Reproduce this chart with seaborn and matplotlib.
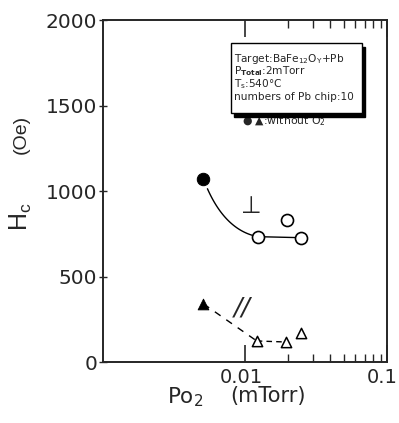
import numpy as np
import pandas as pd
import matplotlib
matplotlib.use("Agg")
import matplotlib.pyplot as plt
import matplotlib.transforms as mtransforms
from matplotlib.patches import Rectangle
from matplotlib.ticker import FixedLocator, NullFormatter
import seaborn as sns

# ---- data ----
po2_perp_filled = [0.0051]
hc_perp_filled = [1070]
po2_perp_open = [0.0123, 0.0197, 0.0247]
hc_perp_open = [733, 833, 727]

po2_par_filled = [0.0051]
hc_par_filled = [340]
po2_par_open = [0.0121, 0.0194, 0.0246]
hc_par_open = [123, 117, 170]

x_ticks = [0.01, 0.1]
x_ticklabels = ["0.01", "0.1"]
y_ticks = [0, 500, 1000, 1500, 2000]

sns.set_style("ticks")
plt.rcParams["font.family"] = ["DejaVu Sans"]
plt.rcParams["mathtext.default"] = "regular"

fig = plt.figure(figsize=(3.99, 4.23), dpi=100)
ax = fig.add_axes([103/399, 1-362/423, 284/399, 342/423])
ax.set_xscale("log")
ax.set_xlim(0.001, 0.1)
ax.set_ylim(0, 2000)

# guide curve (perpendicular): quadratic bezier in log-x space between filled and first open point
x0, y0 = np.log10(po2_perp_filled[0]), hc_perp_filled[0]
x1, y1 = np.log10(po2_perp_open[0]), hc_perp_open[0]
cx, cy = x0 + 0.35*(x1-x0), y1 + 40
t = np.linspace(0.10, 1, 40)
bx = (1-t)**2*x0 + 2*(1-t)*t*cx + t**2*x1
by = (1-t)**2*y0 + 2*(1-t)*t*cy + t**2*y1
ax.plot(10**bx, by, color="black", lw=1.0, zorder=2)
ax.plot([po2_perp_open[0], po2_perp_open[2]], [hc_perp_open[0], hc_perp_open[2]],
        color="black", lw=1.0, zorder=2)

# dashed guide (parallel)
ax.plot([po2_par_filled[0], po2_par_open[0]], [hc_par_filled[0], hc_par_open[0]],
        color="black", lw=1.0, ls=(0, (5, 5)), zorder=2)
ax.plot([po2_par_open[0], po2_par_open[1]], [hc_par_open[0], hc_par_open[1]],
        color="black", lw=1.0, ls=(0, (4, 3)), zorder=2)

sns.scatterplot(x=po2_perp_filled, y=hc_perp_filled, marker="o", s=80,
                color="black", edgecolor="black", ax=ax, zorder=5)
sns.scatterplot(x=po2_perp_open, y=hc_perp_open, marker="o", s=75,
                facecolor="white", edgecolor="black", linewidth=1.2, ax=ax, zorder=5)
sns.scatterplot(x=po2_par_filled, y=hc_par_filled, marker="^", s=60,
                color="black", edgecolor="black", ax=ax, zorder=5)
sns.scatterplot(x=po2_par_open, y=hc_par_open, marker="^", s=55,
                facecolor="white", edgecolor="black", linewidth=1.1, ax=ax, zorder=5)

# ticks
ax.xaxis.set_major_locator(FixedLocator(x_ticks))
ax.set_xticklabels(x_ticklabels)
ax.xaxis.set_minor_locator(FixedLocator([0.02, 0.03, 0.04, 0.05, 0.06, 0.07, 0.08, 0.09]))
ax.xaxis.set_minor_formatter(NullFormatter())
ax.set_yticks(y_ticks)
ax.tick_params(axis="x", which="major", direction="in", length=12, width=1.2,
               top=True, bottom=True, labelsize=14, pad=4)
ax.tick_params(axis="x", which="minor", direction="in", length=6, width=1.0,
               top=True, bottom=True)
ax.tick_params(axis="y", which="major", direction="inout", length=6, width=1.0,
               left=True, right=False, labelsize=14.5, pad=1)
for s in ax.spines.values():
    s.set_linewidth(1.4)
    s.set_visible(True)

# nudge the x tick labels slightly (as in the reference)
offset = mtransforms.ScaledTranslation(-5/100, 0, fig.dpi_scale_trans)
lbl = ax.get_xticklabels()[-1]
lbl.set_transform(lbl.get_transform() + offset)
offset2 = mtransforms.ScaledTranslation(-4/100, 0, fig.dpi_scale_trans)
lbl0 = ax.get_xticklabels()[0]
lbl0.set_transform(lbl0.get_transform() + offset2)

# axis labels
fig.text(21/399, 1-217/423, "H$_c$", rotation=90, ha="center", va="center",
         fontsize=18, family="Liberation Sans")
fig.text(21/399, 1-134/423, "(Oe)", rotation=90, ha="center", va="center",
         fontsize=14, family="Liberation Sans")
fig.text(185/399, 1-397/423, "Po$_2$", ha="center", va="center", fontsize=15.5)
fig.text(268/399, 1-396/423, "(mTorr)", ha="center", va="center", fontsize=15)

# info box with shadow
bx0, by0, bw, bh = 0.451, 0.727, 0.461, 0.206
ax.add_patch(Rectangle((bx0+0.012, by0-0.011), bw, bh, transform=ax.transAxes,
                       facecolor="black", edgecolor="black", zorder=6))
ax.add_patch(Rectangle((bx0, by0), bw, bh, transform=ax.transAxes,
                       facecolor="white", edgecolor="black", lw=1.0, zorder=7))
lines = ["Target:BaFe$_{12}$O$_{Y}$+Pb",
         "P$_{\\bf{Total}}$:2mTorr",
         "T$_{s}$:540°C",
         "numbers of Pb chip:10"]
ys = [0.887, 0.850, 0.814, 0.775]
for txt, yy in zip(lines, ys):
    ax.text(0.460, yy, txt, transform=ax.transAxes, fontsize=7.6, va="center",
            ha="left", zorder=8)
ax.text(0.490, 0.705, "● ▲:without O$_2$", transform=ax.transAxes, fontsize=7.8,
        va="center", ha="left")

# branch labels
ax.text(0.0110, 915, "⊥", fontsize=17, ha="center", va="center")
ax.text(0.0095, 317, "//", fontsize=18, ha="center", va="center", style="italic")

fig.savefig("out.png", dpi=100)
